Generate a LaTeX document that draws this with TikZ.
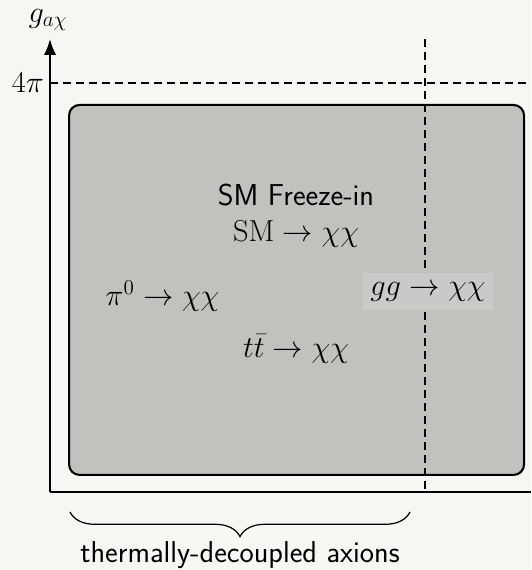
\documentclass[tikz,border=0pt]{standalone}
\usepackage{xcolor}
\definecolor{fiPaper}{HTML}{F7F6F2}
\definecolor{fiRegion}{HTML}{C2C1BD}
\definecolor{fiTag}{HTML}{C9C9C7}
\usepackage{tikz}
\usetikzlibrary{positioning,arrows.meta,decorations.pathreplacing}
\usepackage{amsmath,amssymb}
\newcommand{\bigtext}{\fontsize{17.2}{20}\selectfont}

\begin{document}
\begin{tikzpicture}[
      every node/.style={font=\bigtext},
      axis/.style={line width=1.2pt,black},
      guide/.style={line width=1.2pt,black,dash pattern=on 4.6pt off 2.8pt},
      region/.style={rectangle,rounded corners=6pt,draw=black,line width=1.2pt,
                     fill=fiRegion,inner sep=0pt},
      chan/.style={font=\bigtext},
      tag/.style={fill=fiTag,minimum width=26mm,minimum height=7.4mm,inner sep=2pt},
    ]

    % Canvas
    \fill[fiPaper] (0,0) rectangle (10.62,11.4);
    \useasboundingbox (0,0) rectangle (10.62,11.4);

    % Axis frame
    \coordinate (O) at (1.0,1.56);
    \coordinate (ytop) at (1.0,10.62);
    \coordinate (xend) at (10.62,1.56);

    % Allowed region
    \node[region,minimum width=91mm,minimum height=74mm,anchor=south west]
      (box) at (1.36,1.88) {};

    % Guides: perturbativity and the vertical cut
    \coordinate (pi4) at (1.0,9.74);
    \coordinate (pi4r) at (10.62,9.74);
    \coordinate (cuttop) at (8.5,10.62);
    \coordinate (cutbot) at (8.5,1.56);
    \draw[guide] (pi4) -- (pi4r);
    \draw[guide] (cuttop) -- (cutbot);

    \draw[axis,-{Latex[length=9pt,width=7pt]}] (O) -- (ytop);
    \draw[axis] (O) -- (xend);

    % Axis labels
    \node (ylab) at (0.96,11.0) {$g_{a\chi}$};
    \node[left=0pt of pi4] (pilab) {$4\pi$};

    % Channels
    \node[chan,font=\bigtext\sffamily] (fz) at (5.92,7.5) {SM Freeze-in};
    \node[chan] (sm) at (5.92,6.72) {$\mathrm{SM}\to\chi\chi$};
    \node[chan] (pion) at (3.25,5.48) {$\pi^0\to\chi\chi$};
    \node[chan] (top) at (5.92,4.42) {$t\bar{t}\to\chi\chi$};
    \node[chan,tag] (glue) at (8.56,5.57) {$gg\to\chi\chi$};

    % Brace under the decoupled range
    \coordinate (bl) at (1.4,1.16);
    \coordinate (br) at (8.2,1.16);
    \draw[line width=0.7pt,decorate,decoration={brace,mirror,amplitude=14pt}]
      (bl) -- (br);
    \node[font=\bigtext\sffamily] (dec) at (4.8,0.3) {thermally-decoupled axions};

  \end{tikzpicture}
\end{document}
